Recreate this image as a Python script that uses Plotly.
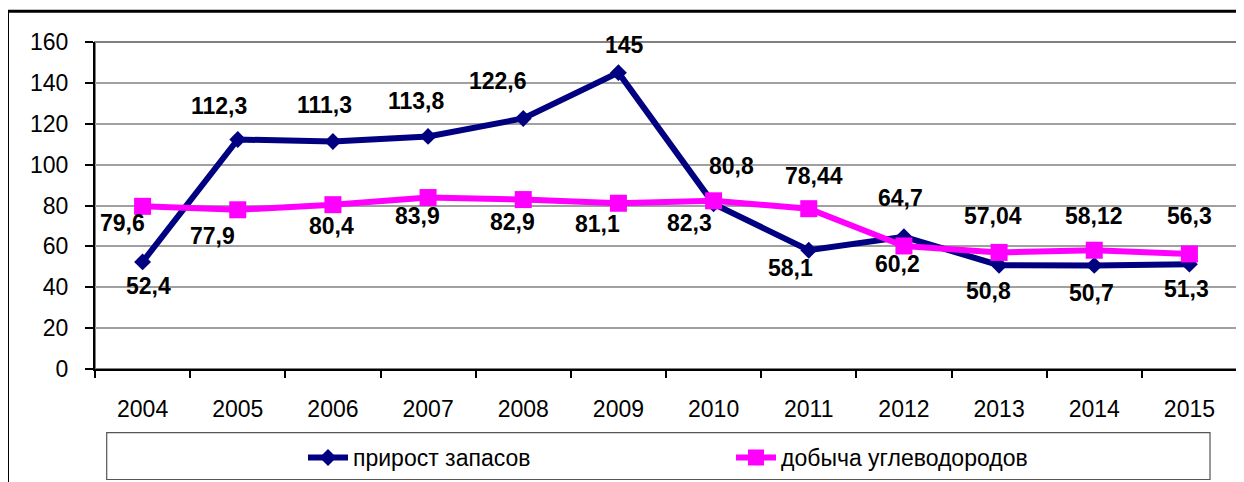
import plotly.graph_objects as go

years = ["2004", "2005", "2006", "2007", "2008", "2009", "2010", "2011", "2012", "2013", "2014", "2015"]
reserves = [52.4, 112.3, 111.3, 113.8, 122.6, 145, 80.8, 58.1, 64.7, 50.8, 50.7, 51.3]
production = [79.6, 77.9, 80.4, 83.9, 82.9, 81.1, 82.3, 78.44, 60.2, 57.04, 58.12, 56.3]
name_reserves = "прирост запасов"
name_production = "добыча углеводородов"
y_ticks = [0, 20, 40, 60, 80, 100, 120, 140, 160]

# label offsets in pixels (dx right, dy down) — styling only
off_reserves = [(6, 24), (-19, -33), (-8, -37), (-12, -35), (-25, -37), (6, -28),
                (18, -38), (-18, 17.5), (-3.5, -39), (-11, 26), (-3, 27.5), (-3, 25)]
off_production = [(-20, 16.5), (-25, 26), (-1, 21.5), (-11, 18.5), (-11, 22.5), (-21, 21),
                  (-24, 22), (5, -32.5), (-6, 18.5), (-6, -36), (0, -34), (0, -38)]

FONT = "Liberation Sans, Arial, sans-serif"
BLUE = "#000080"
PINK = "#FF00FF"

OFF = 8
W, H = 1244 - OFF, 482 - OFF
PX0, PX1, PY0, PY1 = 95, 1237, 41.7, 369.3
L, R, T, B = PX0 - OFF, (1244 - PX1), PY0 - OFF, (482 - PY1)
pw, ph = PX1 - PX0, PY1 - PY0


def px2paper(x, y):
    return (x - PX0) / pw, (PY1 - y) / ph


def fmt(v):
    return f"{v:g}".replace(".", ",")


fig = go.Figure()
fig.add_trace(go.Scatter(
    x=years, y=reserves, name=name_reserves, mode="lines+markers",
    line=dict(color=BLUE, width=6),
    marker=dict(symbol="diamond", size=13, color=BLUE),
))
fig.add_trace(go.Scatter(
    x=years, y=production, name=name_production, mode="lines+markers",
    line=dict(color=PINK, width=6),
    marker=dict(symbol="square", size=17, color=PINK),
))

for vals, offs in ((reserves, off_reserves), (production, off_production)):
    for i, (v, (dx, dy)) in enumerate(zip(vals, offs)):
        fig.add_annotation(
            x=i, y=v, xref="x", yref="y", text="<b>" + fmt(v) + "</b>", showarrow=False,
            xshift=dx, yshift=-dy, xanchor="center", yanchor="middle",
            font=dict(family=FONT, size=23, color="black"),
        )

lx0, ly0 = px2paper(106.7, 480)
lx1, ly1 = px2paper(1210, 433)
ox0, oy0 = px2paper(7.5, 520)
ox1, oy1 = px2paper(1280, 11)
fig.add_shape(type="rect", xref="paper", yref="paper", x0=0, y0=0, x1=1, y1=1,
              line=dict(color="#808080", width=2), layer="below")
fig.add_shape(type="rect", xref="paper", yref="paper", x0=lx0, y0=ly0, x1=lx1, y1=ly1,
              line=dict(color="#555555", width=1.2))
fig.add_shape(type="rect", xref="paper", yref="paper", x0=ox0, y0=oy0, x1=ox1, y1=oy1,
              line=dict(color="black", width=3))

legx, legy = px2paper(303, 458)

fig.update_layout(
    width=W, height=H,
    margin=dict(l=L, r=R, t=T, b=B, autoexpand=False),
    paper_bgcolor="white", plot_bgcolor="white",
    font=dict(family=FONT, size=23, color="black"),
    showlegend=True,
    legend=dict(orientation="h", x=legx, y=legy, xref="paper", yref="paper",
                xanchor="left", yanchor="middle", entrywidth=373, entrywidthmode="pixels",
                font=dict(family=FONT, size=23, color="black"),
                bgcolor="rgba(0,0,0,0)", borderwidth=0, itemwidth=40),
    xaxis=dict(
        type="category", categoryorder="array", categoryarray=years,
        showline=True, linecolor="black", linewidth=2,
        ticks="outside", ticklen=7, tickcolor="black", tickwidth=1.5,
        tickson="boundaries", showgrid=False, zeroline=False,
        ticklabelstandoff=18, tickfont=dict(family=FONT, size=23, color="black"),
        range=[-0.5, 11.5],
    ),
    yaxis=dict(
        range=[0, 160], tickvals=y_ticks,
        showline=True, linecolor="black", linewidth=2,
        ticks="outside", ticklen=8, tickcolor="black", tickwidth=1.5,
        showgrid=True, gridcolor="#a0a0a0", gridwidth=1.5, zeroline=False,
        ticklabelstandoff=12, tickfont=dict(family=FONT, size=23, color="black"),
    ),
)

fig.write_html("out.html")
